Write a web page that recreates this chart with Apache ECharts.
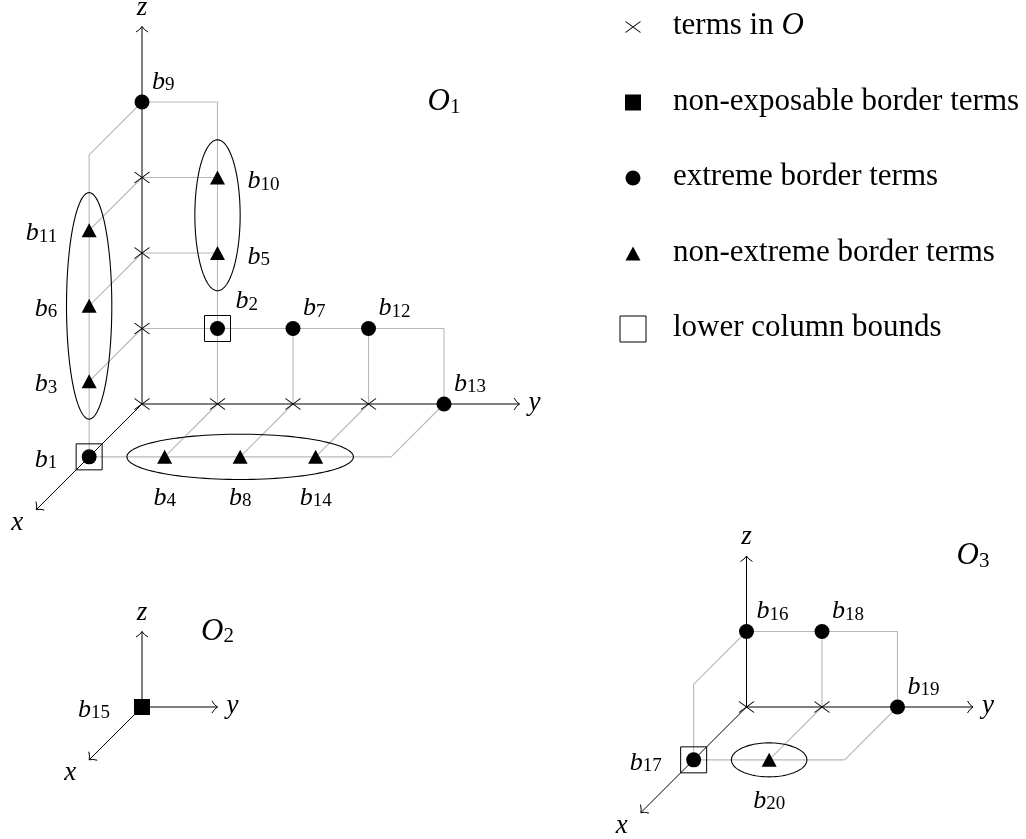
<!DOCTYPE html>
<html><head><meta charset="utf-8">
<script src="https://cdn.jsdelivr.net/npm/echarts@6/dist/echarts.min.js"></script>
<style>html,body{margin:0;padding:0;background:#fff}#c{width:1026px;height:839px}</style>
</head><body><div id="c"></div>
<script>
// ================= DATA =================
// three order ideals drawn as lattice diagrams
const diagramNames = ['O', 'O', 'O'];
const diagramSubscripts = ['1', '2', '3'];
const diagramLabelAt = [[0, 4, 4], [0, 1, 1], [0, 3, 2]];   // lattice point (x,y,z) where the name sits
const axisLengthX = [2, 1, 2];
const axisLengthY = [5, 1, 3];
const axisLengthZ = [5, 1, 2];
const axisNames = ['x', 'y', 'z'];

// border terms b1..b20 : diagram index and exponents (x, y, z)
const borderNames   = ['b1','b2','b3','b4','b5','b6','b7','b8','b9','b10','b11','b12','b13','b14','b15','b16','b17','b18','b19','b20'];
const borderDiagram = [0,0,0,0,0,0,0,0,0,0,0,0,0,0,1,2,2,2,2,2];
const borderX       = [1,0,1,1,0,1,0,1,0,0,1,0,0,1,0,0,1,0,0,1];
const borderY       = [0,1,0,1,1,0,2,2,0,1,0,3,4,3,0,0,0,1,2,1];
const borderZ       = [0,1,1,0,2,2,1,0,4,3,3,1,0,0,0,1,0,1,0,0];
const borderKind    = ['extreme','extreme','nonextreme','nonextreme','nonextreme','nonextreme','extreme','nonextreme',
                       'extreme','nonextreme','nonextreme','extreme','extreme','nonextreme','nonexposable',
                       'extreme','extreme','extreme','extreme','nonextreme'];
const lowerColumnBounds = ['b1', 'b2', 'b17'];
const ellipseGroups = [['b3','b6','b11'], ['b5','b10'], ['b4','b8','b14'], ['b20']];

// terms in the order ideal (crosses)
const termDiagram = [0,0,0,0,0,0,0,2,2];
const termX       = [0,0,0,0,0,0,0,0,0];
const termY       = [0,1,2,3,0,0,0,0,1];
const termZ       = [0,0,0,0,1,2,3,0,0];

// grey lattice edges: [diagram, x1,y1,z1, x2,y2,z2]
const latticeEdges = [
  [0, 0,0,4, 0,1,4], [0, 0,1,4, 0,1,0], [0, 0,0,4, 1,0,4], [0, 1,0,4, 1,0,0],
  [0, 0,0,3, 0,1,3], [0, 0,0,3, 1,0,3], [0, 0,0,2, 0,1,2], [0, 0,0,2, 1,0,2],
  [0, 0,0,1, 0,1,1], [0, 0,0,1, 1,0,1], [0, 0,1,1, 0,4,1], [0, 0,4,1, 0,4,0],
  [0, 0,2,1, 0,2,0], [0, 0,3,1, 0,3,0], [0, 0,1,0, 1,1,0], [0, 0,2,0, 1,2,0],
  [0, 0,3,0, 1,3,0], [0, 0,4,0, 1,4,0], [0, 1,0,0, 1,4,0],
  [2, 0,0,1, 0,2,1], [2, 0,2,1, 0,2,0], [2, 0,1,1, 0,1,0], [2, 0,0,1, 1,0,1],
  [2, 1,0,1, 1,0,0], [2, 0,1,0, 1,1,0], [2, 0,2,0, 1,2,0], [2, 1,0,0, 1,2,0]
];

// legend
const legendLabels = ['terms in {o|O}', 'non-exposable border terms', 'extreme border terms', 'non-extreme border terms', 'lower column bounds'];
const legendKinds  = ['term', 'nonexposable', 'extreme', 'nonextreme', 'lowerbound'];

// ================= LAYOUT / STYLE =================
const U = 75.5, OBL = 0.7;
const origins = [[142, 404], [142, 707], [746.5, 707]];
const legendAnchor = { x: 633, y: 27, textDx: 40 };
const labelSide = { b1:'l', b2:'ub', b3:'l', b4:'b', b5:'r', b6:'l', b7:'ur', b8:'b', b9:'ur', b10:'r',
  b11:'l', b12:'ur', b13:'ur', b14:'b', b15:'l', b16:'ur', b17:'l', b18:'ur', b19:'ur', b20:'b' };
const sideOffset = { l:[-32, 3, 'right'], ur:[10, -20, 'left'], ub:[18, -27, 'left'], r:[30, 4, 'left'], b:[0, 41, 'center'] };
const axisLabelOffset = [[-19, 13], [15, -1], [0, -19]];
const SERIF = '"Liberation Serif", "Times New Roman", serif';
const kindStyle = {
  term: { symbol: 'path://M0,0L15,11M15,0L0,11', size: [15, 11], itemStyle: { color: 'rgba(0,0,0,0)', borderColor: '#000', borderWidth: 1, opacity: 1 } },
  nonexposable: { symbol: 'rect', size: 16, itemStyle: { color: '#000', opacity: 1 } },
  extreme: { symbol: 'circle', size: 15, itemStyle: { color: '#000', opacity: 1 } },
  nonextreme: { symbol: 'triangle', size: [15, 14], itemStyle: { color: '#000', opacity: 1 } },
  lowerbound: { symbol: 'rect', size: 26, itemStyle: { color: 'rgba(0,0,0,0)', borderColor: '#000', borderWidth: 1, opacity: 1 } }
};

function proj(d, x, y, z) {
  const o = origins[d];
  return [o[0] + (y - OBL * x) * U, o[1] + (OBL * x - z) * U];
}
const idxOf = n => borderNames.indexOf(n);
const bPos = i => proj(borderDiagram[i], borderX[i], borderY[i], borderZ[i]);

// ---- derived series data ----
const edgeData = latticeEdges.map(e => proj(e[0], e[1], e[2], e[3]).concat(proj(e[0], e[4], e[5], e[6])));
const axisData = [];
const texts = []; // {p:[x,y], text, align, rich}
const richB = {
  b: { fontFamily: SERIF, fontStyle: 'italic', fontSize: 26, lineHeight: 26, fill: '#000' },
  s: { fontFamily: SERIF, fontSize: 19, lineHeight: 13, verticalAlign: 'bottom', fill: '#000' }
};
const richO = {
  o: { fontFamily: SERIF, fontStyle: 'italic', fontSize: 31, lineHeight: 31, fill: '#000' },
  s: { fontFamily: SERIF, fontSize: 21, lineHeight: 15, verticalAlign: 'bottom', fill: '#000' }
};
for (let d = 0; d < origins.length; d++) {
  const o = proj(d, 0, 0, 0);
  const tips = [proj(d, axisLengthX[d], 0, 0), proj(d, 0, axisLengthY[d], 0), proj(d, 0, 0, axisLengthZ[d])];
  tips.forEach((t, k) => {
    axisData.push([o[0], o[1], t[0], t[1]]);
    texts.push({ p: [t[0] + axisLabelOffset[k][0], t[1] + axisLabelOffset[k][1]], text: '{a|' + axisNames[k] + '}', align: 'center',
      rich: { a: { fontFamily: SERIF, fontStyle: 'italic', fontSize: 27, fill: '#000' } } });
  });
  const la = diagramLabelAt[d];
  texts.push({ p: proj(d, la[0], la[1], la[2]), text: '{o|' + diagramNames[d] + '}{s|' + diagramSubscripts[d] + '}', align: 'center', rich: richO });
}
borderNames.forEach((n, i) => {
  const p = bPos(i), off = sideOffset[labelSide[n]];
  texts.push({ p: [p[0] + off[0], p[1] + off[1]], text: '{b|b}{s|' + n.slice(1) + '}', align: off[2], rich: richB });
});
legendLabels.forEach((t, i) => {
  texts.push({ p: [legendAnchor.x + legendAnchor.textDx, legendAnchor.y + i * U - 1], text: '{t|' + t.replace('{o|O}', '}{o|O}{t|') + '}', align: 'left',
    rich: { t: { fontFamily: SERIF, fontSize: 31, fill: '#000' }, o: { fontFamily: SERIF, fontStyle: 'italic', fontSize: 31, fill: '#000' } } });
});

const ellipseData = ellipseGroups.map(g => {
  const ps = g.map(n => bPos(idxOf(n)));
  const xs = ps.map(p => p[0]), ys = ps.map(p => p[1]);
  const x0 = Math.min(...xs), x1 = Math.max(...xs), y0 = Math.min(...ys), y1 = Math.max(...ys);
  let rx, ry;
  if (g.length === 1) { rx = 0.5 * U; ry = 0.225 * U; }
  else { rx = (x1 - x0) / 2 + (x1 > x0 ? 0.5 * U : 0.3 * U); ry = (y1 - y0) / 2 + (y1 > y0 ? 0.5 * U : 0.3 * U); }
  return [(x0 + x1) / 2, (y0 + y1) / 2, rx, ry];
});

function kindSeries(name, kind, pts, z) {
  const st = kindStyle[kind];
  return { type: 'scatter', name, z, silent: true, symbol: st.symbol, symbolSize: st.size, itemStyle: st.itemStyle, data: pts, animation: false };
}
const termPts = termDiagram.map((d, i) => proj(d, termX[i], termY[i], termZ[i]));
const ptsOfKind = k => borderNames.map((n, i) => i).filter(i => borderKind[i] === k).map(bPos);
const lowerPts = lowerColumnBounds.map(n => bPos(idxOf(n)));
const legendPts = legendKinds.map((k, i) => {
  const st = kindStyle[k];
  return { value: [legendAnchor.x, legendAnchor.y + i * U], symbol: st.symbol, symbolSize: st.size, itemStyle: st.itemStyle };
});

const chart = echarts.init(document.getElementById('c'));
chart.setOption({
  animation: false,
  backgroundColor: '#fff',
  grid: { left: 0, top: 0, width: 1026, height: 839 },
  xAxis: { type: 'value', min: 0, max: 1026, show: false },
  yAxis: { type: 'value', min: 0, max: 839, inverse: true, show: false },
  series: [
    { type: 'custom', name: 'lattice', z: 1, silent: true, clip: false, data: edgeData,
      renderItem: (p, api) => {
        const a = api.coord([api.value(0), api.value(1)]), b = api.coord([api.value(2), api.value(3)]);
        return { type: 'line', shape: { x1: a[0], y1: a[1], x2: b[0], y2: b[1] }, style: { stroke: '#b8b8b8', lineWidth: 1.1, fill: 'none' } };
      } },
    { type: 'custom', name: 'axes', z: 2, silent: true, clip: false, data: axisData,
      renderItem: (p, api) => {
        const s = api.coord([api.value(0), api.value(1)]), e = api.coord([api.value(2), api.value(3)]);
        const dx = e[0] - s[0], dy = e[1] - s[1], L = Math.hypot(dx, dy), ux = dx / L, uy = dy / L, nx = -uy, ny = ux;
        const arm = sg => ({ type: 'bezierCurve', shape: { x1: e[0], y1: e[1], x2: e[0] - 5.5 * ux + sg * 6 * nx, y2: e[1] - 5.5 * uy + sg * 6 * ny,
          cpx1: e[0] - 3 * ux + sg * 1.6 * nx, cpy1: e[1] - 3 * uy + sg * 1.6 * ny }, style: { stroke: '#000', fill: 'none', lineWidth: 1 } });
        return { type: 'group', children: [
          { type: 'line', shape: { x1: s[0], y1: s[1], x2: e[0], y2: e[1] }, style: { stroke: '#000', lineWidth: 1, fill: 'none' } },
          arm(1), arm(-1)] };
      } },
    { type: 'custom', name: 'groups', z: 3, silent: true, clip: false, data: ellipseData,
      renderItem: (p, api) => {
        const c = api.coord([api.value(0), api.value(1)]);
        const r = api.size([api.value(2), api.value(3)]);
        const pts = [];
        for (let k = 0; k < 120; k++) { const t = k / 120 * Math.PI * 2; pts.push([c[0] + r[0] * Math.cos(t), c[1] + r[1] * Math.sin(t)]); }
        return { type: 'polygon', shape: { points: pts }, style: { stroke: '#000', fill: 'none', lineWidth: 1.1 } };
      } },
    kindSeries('terms in O', 'term', termPts, 4),
    kindSeries('lower column bounds', 'lowerbound', lowerPts, 4),
    kindSeries('non-exposable border terms', 'nonexposable', ptsOfKind('nonexposable'), 5),
    kindSeries('extreme border terms', 'extreme', ptsOfKind('extreme'), 5),
    kindSeries('non-extreme border terms', 'nonextreme', ptsOfKind('nonextreme'), 5),
    { type: 'scatter', name: 'legend', z: 5, silent: true, data: legendPts, itemStyle: { opacity: 1 } },
    { type: 'custom', name: 'texts', z: 6, silent: true, clip: false, data: texts.map(t => t.p),
      renderItem: (p, api) => {
        const t = texts[p.dataIndex];
        const c = api.coord([api.value(0), api.value(1)]);
        return { type: 'text', x: c[0], y: c[1], style: { text: t.text, rich: t.rich, align: t.align, verticalAlign: 'middle', fill: '#000',
          fontFamily: SERIF, fontSize: 25 } };
      } }
  ]
});
</script></body></html>
